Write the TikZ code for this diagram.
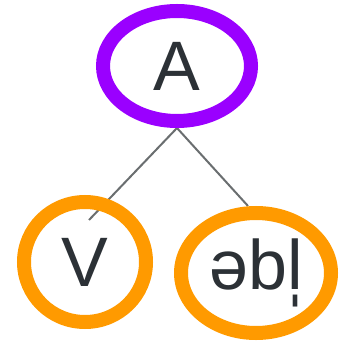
\documentclass[tikz,border=0pt]{standalone}
\usepackage{fontspec}
\setmainfont{Liberation Sans}
\usepackage{tikz}
\usetikzlibrary{shapes.geometric,backgrounds}
\definecolor{ringpurple}{HTML}{9A00FF}
\definecolor{ringorange}{HTML}{FF9A00}
\definecolor{inkgray}{HTML}{2C3136}
\definecolor{stemgray}{HTML}{6A6E70}

\begin{document}
\begin{tikzpicture}[x=1pt, y=-1pt, thick]
    \tikzset{
        ring/.style={ellipse, draw=#1, line width=14pt, inner sep=0pt,
            text=inkgray, font=\fontsize{70}{70}\selectfont},
        stem/.style={draw=stemgray, line width=2pt}
    }
    \useasboundingbox (0,0) rectangle (341,344);
    % Root and daughters
    \node[ring=ringpurple, minimum width=148pt, minimum height=110pt] (root) at (177,66) {A};
    \node[ring=ringorange, minimum width=122pt, minimum height=120pt] (verb) at (85,262) {V};
    \node[ring=ringorange, minimum width=150pt, minimum height=120pt] (suffix) at (256,273) {əbl̩};
    % Branches
    \coordinate (verbtop) at (89,220);
    \coordinate (suffixtop) at (248,206);
    \begin{scope}[on background layer]
        \draw[stem] (root.south) -- (verbtop);
        \draw[stem] (root.south) -- (suffixtop);
    \end{scope}
\end{tikzpicture}
\end{document}
